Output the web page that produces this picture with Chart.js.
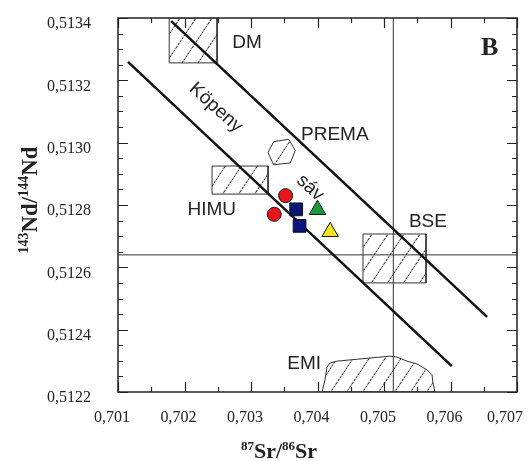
<!DOCTYPE html>
<html>
<head>
<meta charset="utf-8">
<script src="https://cdn.jsdelivr.net/npm/chart.js@4.4.1/dist/chart.umd.min.js"></script>
<style>
  body { margin: 0; background: #fff; }
  canvas { display: block; }
</style>
</head>
<body>
<canvas id="srnd" width="528" height="461"></canvas>
<script>
// tick labels
const srTicks = [0.701, 0.702, 0.703, 0.704, 0.705, 0.706, 0.707];
const ndTicks = [0.5122, 0.5124, 0.5126, 0.5128, 0.5130, 0.5132, 0.5134];

// samples
const circleSr = [0.70352, 0.70335];
const circleNd = [0.51283, 0.51277];
const squareSr = [0.70368, 0.70373];
const squareNd = [0.512786, 0.512733];
const greenSr = [0.70400];
const greenNd = [0.512785];
const yellowSr = [0.70419];
const yellowNd = [0.512714];

// mantle array ("köpeny sáv") boundaries
const arrayLowSr = [0.70115, 0.70602];
const arrayLowNd = [0.513259, 0.512283];
const arrayHighSr = [0.70180, 0.70655];
const arrayHighNd = [0.51339, 0.512441];

// bulk silicate earth
const bseSr = 0.70514;
const bseNd = 0.51264;

// end-member fields
const dmSr = [0.70177, 0.70249, 0.70249, 0.70177, 0.70177];
const dmNd = [0.5134, 0.5134, 0.513256, 0.513256, 0.5134];
const himuSr = [0.702414, 0.703256, 0.703256, 0.702414, 0.702414];
const himuNd = [0.512925, 0.512925, 0.512835, 0.512835, 0.512925];
const bseBoxSr = [0.704684, 0.705632, 0.705632, 0.704684, 0.704684];
const bseBoxNd = [0.512707, 0.512707, 0.51255, 0.51255, 0.512707];
const premaSr = [0.703256, 0.703341, 0.703567, 0.703666, 0.703591, 0.703341, 0.703256];
const premaNd = [0.512968, 0.513003, 0.513011, 0.512975, 0.512935, 0.512929, 0.512968];
const emiSr = [0.704068, 0.704113, 0.704143, 0.704188, 0.704293, 0.704489, 0.704789, 0.70509,
               0.705195, 0.705346, 0.705496, 0.705647, 0.705722, 0.705737, 0.705767, 0.704068];
const emiNd = [0.5122, 0.512239, 0.51228, 0.512293, 0.512299, 0.512303, 0.512309, 0.512315,
               0.512312, 0.512299, 0.51229, 0.512271, 0.512255, 0.512229, 0.5122, 0.5122];

const pts = (xs, ys) => xs.map((x, i) => ({x: x, y: ys[i]}));

function hatch() {
  const c = document.createElement('canvas');
  c.width = 16; c.height = 24;
  const g = c.getContext('2d');
  g.strokeStyle = '#1a1a1a';
  g.lineWidth = 1;
  g.setLineDash([2.5, 1]);
  g.beginPath();
  for (const off of [-16, 0, 16]) {
    g.moveTo(off, 24);
    g.lineTo(off + 16, 0);
  }
  g.stroke();
  return g.createPattern(c, 'repeat');
}
const pattern = hatch();

function field(xs, ys) {
  return {
    data: pts(xs, ys), showLine: true, fill: 'shape', backgroundColor: pattern,
    borderColor: '#333', borderWidth: 1, pointRadius: 0, tension: 0
  };
}
function line(xs, ys, width, color) {
  return {
    data: pts(xs, ys), showLine: true, fill: false, borderColor: color,
    borderWidth: width, pointRadius: 0
  };
}
function marker(xs, ys, style, color, r) {
  return {
    data: pts(xs, ys), pointStyle: style, pointRadius: r, pointBackgroundColor: color,
    pointBorderColor: '#111', pointBorderWidth: 1, showLine: false
  };
}

const fieldLabels = [
  {text: 'DM', sr: 0.70294, nd: 0.51332, rot: 0},
  {text: 'Köpeny', sr: 0.70247, nd: 0.513112, rot: 42},
  {text: 'PREMA', sr: 0.70426, nd: 0.513025, rot: 0},
  {text: 'sáv', sr: 0.70389, nd: 0.512855, rot: 42},
  {text: 'HIMU', sr: 0.70241, nd: 0.512784, rot: 0},
  {text: 'BSE', sr: 0.70566, nd: 0.512746, rot: 0},
  {text: 'EMI', sr: 0.7038, nd: 0.51229, rot: 0}
];

function isoText(ctx, parts, size, supSize) {
  // measure then draw mass number superscripts
  let w = 0;
  for (const [t, sup] of parts) {
    ctx.font = 'bold ' + (sup ? supSize : size) + 'px "Liberation Serif", "Times New Roman", serif';
    w += ctx.measureText(t).width;
  }
  let x = -w / 2;
  for (const [t, sup] of parts) {
    ctx.font = 'bold ' + (sup ? supSize : size) + 'px "Liberation Serif", "Times New Roman", serif';
    ctx.fillText(t, x, sup ? -size * 0.38 : 0);
    x += ctx.measureText(t).width;
  }
}

const decor = {
  id: 'decor',
  afterDatasetsDraw(chart) {
    const {ctx, chartArea: a, scales: {x, y}} = chart;
    ctx.save();
    // frame
    ctx.strokeStyle = '#222';
    ctx.lineWidth = 1.5;
    ctx.strokeRect(a.left, a.top, a.right - a.left, a.bottom - a.top);
    // inward ticks on all four sides
    ctx.lineWidth = 1.2;
    ctx.beginPath();
    for (let i = 0; i <= 12; i++) {
      const px = Math.round(x.getPixelForValue(0.701 + i * 0.0005)) + 0.5;
      const len = i % 2 === 0 ? 10 : 5;
      ctx.moveTo(px, a.bottom); ctx.lineTo(px, a.bottom - len);
      ctx.moveTo(px, a.top); ctx.lineTo(px, a.top + len);
    }
    for (let i = 0; i <= 24; i++) {
      const py = Math.round(y.getPixelForValue(0.5122 + i * 0.00005)) + 0.5;
      const len = i % 4 === 0 ? 10 : 5;
      ctx.moveTo(a.left, py); ctx.lineTo(a.left + len, py);
      ctx.moveTo(a.right, py); ctx.lineTo(a.right - len, py);
    }
    ctx.stroke();

    // field names
    ctx.fillStyle = '#222';
    ctx.textAlign = 'center';
    ctx.textBaseline = 'middle';
    ctx.font = '19px "Liberation Sans", Arial, sans-serif';
    for (const l of fieldLabels) {
      ctx.save();
      ctx.translate(x.getPixelForValue(l.sr), y.getPixelForValue(l.nd));
      ctx.rotate(l.rot * Math.PI / 180);
      ctx.fillText(l.text, 0, 0);
      ctx.restore();
    }

    // panel letter
    ctx.font = 'bold 26px "Liberation Serif", "Times New Roman", serif';
    ctx.fillText('B', x.getPixelForValue(0.70659), y.getPixelForValue(0.513304));

    // axis titles
    ctx.textAlign = 'left';
    ctx.textBaseline = 'alphabetic';
    ctx.save();
    ctx.translate(279, 458);
    isoText(ctx, [['87', true], ['Sr/', false], ['86', true], ['Sr', false]], 22, 13);
    ctx.restore();
    ctx.save();
    ctx.translate(37, 200);
    ctx.rotate(-Math.PI / 2);
    isoText(ctx, [['143', true], ['Nd/', false], ['144', true], ['Nd', false]], 23, 14);
    ctx.restore();
    ctx.restore();
  }
};

const comma = v => v.toString().replace('.', ',');

new Chart(document.getElementById('srnd'), {
  type: 'scatter',
  data: {
    datasets: [
      marker(circleSr, circleNd, 'circle', '#e8161c', 7),
      marker(squareSr, squareNd, 'rect', '#0c1578', 9),
      marker(greenSr, greenNd, 'triangle', '#1b9a3c', 9.5),
      marker(yellowSr, yellowNd, 'triangle', '#f6e41c', 9.5),
      line(arrayLowSr, arrayLowNd, 2.5, '#111'),
      line(arrayHighSr, arrayHighNd, 2.5, '#111'),
      line([bseSr, bseSr], [0.5122, 0.5134], 1, '#333'),
      line([0.701, 0.707], [bseNd, bseNd], 1, '#333'),
      field(dmSr, dmNd),
      field(himuSr, himuNd),
      field(bseBoxSr, bseBoxNd),
      field(premaSr, premaNd),
      field(emiSr, emiNd)
    ]
  },
  options: {
    responsive: false,
    animation: false,
    devicePixelRatio: 1,
    layout: {padding: {top: 18, right: 11, left: 0, bottom: 0}},
    plugins: {legend: {display: false}, tooltip: {enabled: false}},
    scales: {
      x: {
        type: 'linear', min: 0.701, max: 0.707,
        grid: {display: false, drawTicks: false},
        border: {display: false},
        afterBuildTicks: s => { s.ticks = srTicks.map(v => ({value: v})); },
        afterFit: s => { s.height = 69; s.paddingLeft = 0; s.paddingRight = 0; },
        ticks: {
          padding: 16, labelOffset: -6, color: '#222',
          font: {family: '"Liberation Serif", "Times New Roman", serif', size: 16},
          // last label is pulled in so it stays inside the canvas
          callback: (v, i, all) => i === all.length - 1 ? comma(v) + '   ' : comma(v)
        }
      },
      y: {
        type: 'linear', min: 0.5122, max: 0.5134,
        grid: {display: false, drawTicks: false},
        border: {display: false},
        afterBuildTicks: s => { s.ticks = ndTicks.map(v => ({value: v})); },
        afterFit: s => { s.width = 118; s.paddingTop = 0; s.paddingBottom = 0; },
        ticks: {
          padding: 27, labelOffset: 6, color: '#222',
          font: {family: '"Liberation Serif", "Times New Roman", serif', size: 16},
          callback: v => comma(v.toFixed(4))
        }
      }
    }
  },
  plugins: [decor]
});
</script>
</body>
</html>
